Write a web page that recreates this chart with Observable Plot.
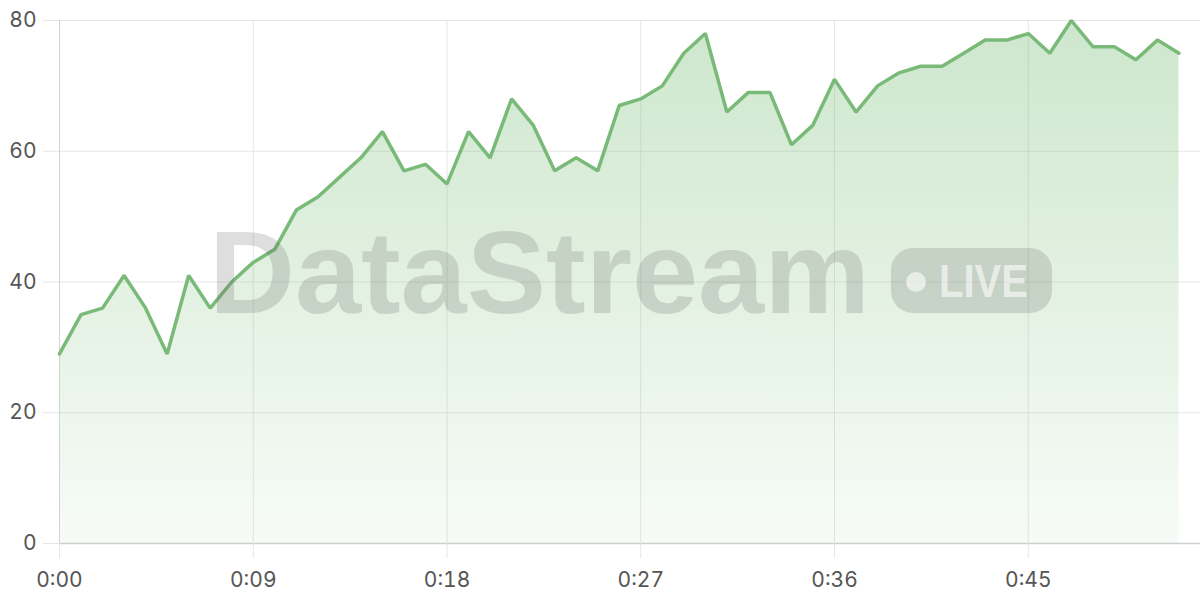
<!DOCTYPE html>
<html>
<head>
<meta charset="utf-8">
<script src="https://cdn.jsdelivr.net/npm/d3@7"></script>
<script src="https://cdn.jsdelivr.net/npm/@observablehq/plot@0.6"></script>
<style>
  html, body { margin: 0; padding: 0; background: #fff; }
  #wrap { position: relative; width: 1200px; height: 600px; }
  #wrap > svg { position: absolute; left: 0; top: 0; }
</style>
</head>
<body>
<div id="wrap"></div>
<script>
// Values, one per second (0:00 .. 0:52)
const values = [29, 35, 36, 41, 36, 29, 41, 36, 40, 43,
                45, 51, 53, 56, 59, 63, 57, 58, 55, 63,
                59, 68, 64, 57, 59, 57, 67, 68, 70, 75,
                78, 66, 69, 69, 61, 64, 71, 66, 70, 72,
                73, 73, 75, 77, 77, 78, 75, 80, 76, 76,
                74, 77, 75];
const xTicks = [0, 9, 18, 27, 36, 45];
const yTicks = [0, 20, 40, 60, 80];
const watermarkText = "DataStream";
const badgeText = "LIVE";

const data = values.map((v, i) => ({t: i, v}));
const fmt = s => `${Math.floor(s / 60)}:${String(s % 60).padStart(2, "0")}`;
const gridColor = "#e6e6e6";

const chart = Plot.plot({
  width: 1200,
  height: 600,
  marginLeft: 59,
  marginRight: 0,
  marginTop: 20,
  marginBottom: 57,
  style: {fontFamily: "Inter, 'Noto Sans', sans-serif", fontSize: "21px", color: "#555", background: "#fff"},
  x: {domain: [0, 53]},
  y: {domain: [0, 80]},
  marks: [
    Plot.gridX(xTicks, {stroke: gridColor, strokeOpacity: 1}),
    Plot.gridY(yTicks, {stroke: gridColor, strokeOpacity: 1}),
    Plot.areaY(data, {x: "t", y: "v", fill: "url(#areaGrad)"}),
    Plot.ruleX([0], {stroke: "#d2d2d2"}),
    Plot.ruleY([0], {stroke: "#cfcfcf", strokeWidth: 1.5}),
    Plot.axisX(xTicks, {tickSize: 15, tickPadding: 14, tickFormat: fmt, stroke: gridColor, strokeOpacity: 1, fill: "#555", label: null, fontSize: 21}),
    Plot.axisY(yTicks, {tickSize: 16, tickPadding: 7, stroke: gridColor, strokeOpacity: 1, fill: "#555", label: null, fontSize: 21}),
    Plot.lineY(data, {x: "t", y: "v", stroke: "#7aba78", strokeWidth: 3.5, strokeLinejoin: "miter"})
  ]
});

chart.insertAdjacentHTML("afterbegin",
  `<defs><linearGradient id="areaGrad" x1="0" y1="0" x2="0" y2="1">
     <stop offset="0" stop-color="#7cbf7a" stop-opacity="0.38"/>
     <stop offset="1" stop-color="#7cbf7a" stop-opacity="0.06"/>
   </linearGradient></defs>`);

const wrap = document.getElementById("wrap");
wrap.appendChild(chart);

// watermark overlay
const ns = "http://www.w3.org/2000/svg";
const wm = document.createElementNS(ns, "svg");
wm.setAttribute("width", 1200);
wm.setAttribute("height", 600);
wm.style.pointerEvents = "none";
wm.innerHTML = `
  <text x="209" y="313" font-family="'Liberation Sans', Arial, sans-serif" font-weight="bold" font-size="116"
        textLength="661" lengthAdjust="spacingAndGlyphs" fill="rgba(90,90,90,0.2)">${watermarkText}</text>
  <rect x="891" y="248" width="161" height="65" rx="22" fill="rgba(90,90,90,0.2)"/>
  <circle cx="916" cy="282" r="10" fill="rgba(255,255,255,0.6)"/>
  <text x="939" y="297" font-family="'Liberation Sans', Arial, sans-serif" font-weight="bold" font-size="47"
        textLength="89" lengthAdjust="spacingAndGlyphs" fill="rgba(255,255,255,0.6)">${badgeText}</text>`;
wrap.appendChild(wm);
</script>
</body>
</html>
